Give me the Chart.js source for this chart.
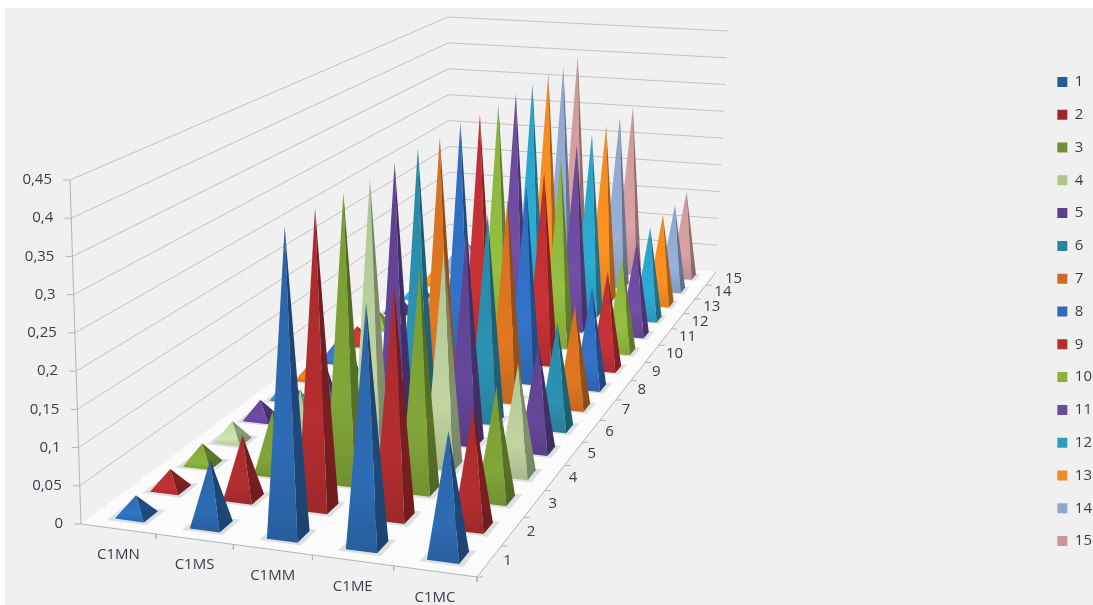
<!DOCTYPE html>
<html lang="en">
<head>
<meta charset="UTF-8">
<title>3D pyramid chart</title>
<script src="https://cdn.jsdelivr.net/npm/chart.js"></script>
<style>
  html, body { margin: 0; padding: 0; background: #fff; }
  #wrap { width: 1093px; height: 605px; overflow: hidden; }
</style>
</head>
<body>
<div id="wrap"><canvas id="chart" width="1093" height="605"></canvas></div>
<script>
const categories = ['C1MN', 'C1MS', 'C1MM', 'C1ME', 'C1MC'];
const seriesNames = ['1', '2', '3', '4', '5', '6', '7', '8', '9', '10', '11', '12', '13', '14', '15'];
const tickLabels = ['0', '0,05', '0,1', '0,15', '0,2', '0,25', '0,3', '0,35', '0,4', '0,45'];
const tickValues = [0, 0.05, 0.1, 0.15, 0.2, 0.25, 0.3, 0.35, 0.4, 0.45];

// one value per series
const c1mn = [0.026, 0.026, 0.028, 0.027, 0.027, 0.027, 0.028, 0.028, 0.028, 0.028, 0.028, 0.028, 0.028, 0.028, 0.028];
const c1ms = [0.084, 0.082, 0.083, 0.083, 0.083, 0.083, 0.083, 0.083, 0.083, 0.083, 0.083, 0.083, 0.083, 0.083, 0.083];
const c1mm = [0.393, 0.39, 0.385, 0.38, 0.38, 0.38, 0.376, 0.38, 0.376, 0.376, 0.378, 0.38, 0.385, 0.385, 0.394];
const c1me = [0.305, 0.3, 0.295, 0.292, 0.292, 0.292, 0.292, 0.292, 0.292, 0.295, 0.3, 0.3, 0.3, 0.3, 0.305];
const c1mc = [0.155, 0.152, 0.147, 0.147, 0.147, 0.147, 0.147, 0.147, 0.147, 0.147, 0.149, 0.152, 0.152, 0.15, 0.156];
const valuesByCategory = [c1mn, c1ms, c1mm, c1me, c1mc];

const seriesColors = ['#2b66ab', '#ab2b2e', '#7a9e35', '#b5c998', '#5f4391', '#2a8aa8', '#d5711f', '#2f6dbf', '#bf2f33', '#8db53c', '#6c4a9e', '#2aa3c8', '#f68b1f', '#8fa7cf', '#cf9a9c'];
const legendColors = ['#265c94', '#9a2a2a', '#6f8f32', '#b0c48c', '#58408a', '#2a84a0', '#d06a20', '#2e6ab8', '#b82c2c', '#8cb23c', '#6a4a9c', '#2aa0c4', '#f58a20', '#8fa5cc', '#cf9498'];

// view: floor corners and the full height of the value axis at each corner
const corners = { a: [81, 524], b: [477, 577], c: [716, 272], d: [450, 250] };
const heights = { a: [-11, -344], b: [2, -370], c: [12, -241], d: [-2, -233] };
const maxValue = 0.45;
const FONT = '15px "Open Sans", "Noto Sans", sans-serif';

function makeHomography() {
  const [x0, y0] = corners.a, [x1, y1] = corners.b, [x2, y2] = corners.c, [x3, y3] = corners.d;
  const dx1 = x1 - x2, dx2 = x3 - x2, sx = x0 - x1 + x2 - x3;
  const dy1 = y1 - y2, dy2 = y3 - y2, sy = y0 - y1 + y2 - y3;
  const den = dx1 * dy2 - dx2 * dy1;
  const g = (sx * dy2 - dx2 * sy) / den;
  const h = (dx1 * sy - sx * dy1) / den;
  return { a: x1 - x0 + g * x1, b: x3 - x0 + h * x3, c: x0, d: y1 - y0 + g * y1, e: y3 - y0 + h * y3, f: y0, g, h };
}
const H = makeHomography();

function project(u, v, value) {
  const w = H.g * u + H.h * v + 1;
  const fx = (H.a * u + H.b * v + H.c) / w;
  const fy = (H.d * u + H.e * v + H.f) / w;
  const k = value / maxValue;
  const mix = i => (1 - u) * (1 - v) * heights.a[i] + u * (1 - v) * heights.b[i] + u * v * heights.c[i] + (1 - u) * v * heights.d[i];
  return { x: fx + mix(0) * k, y: fy + mix(1) * k };
}

function shade(hex, f) {
  const n = parseInt(hex.slice(1), 16);
  const ch = s => Math.min(255, Math.round(((n >> s) & 255) * f));
  return `rgb(${ch(16)},${ch(8)},${ch(0)})`;
}

function polyline(points, color, width) {
  return { data: points, showLine: true, fill: false, borderColor: color, borderWidth: width, pointRadius: 0, tension: 0, clip: false };
}

function polygon(points, fillStyle) {
  return { data: [...points, points[0]], showLine: true, fill: 'shape', backgroundColor: fillStyle, borderWidth: 0, borderColor: 'transparent', pointRadius: 0, tension: 0, clip: false };
}

// the y scale runs in page pixels, so plot values can be used for the gradient ends
function faceGradient(top, mid, bottom, topY, bottomY) {
  return ctx => {
    const g = ctx.chart.ctx.createLinearGradient(0, topY, 0, bottomY);
    g.addColorStop(0, top);
    g.addColorStop(0.7, mid);
    g.addColorStop(1, bottom);
    return g;
  };
}

const nCat = categories.length, nSer = seriesNames.length;
const halfU = 0.195 / nCat, halfV = 0.2 / nSer;
const pyramids = [], shadows = [];

// front rows first: Chart.js paints the lowest dataset index last
for (let s = 0; s < nSer; s++) {
  for (let c = nCat - 1; c >= 0; c--) {
    const u = (c + 0.5) / nCat, v = (s + 0.5) / nSer;
    const value = valuesByCategory[c][s];
    const apex = project(u, v, value);
    const fl = project(u - halfU, v - halfV, 0), fr = project(u + halfU, v - halfV, 0);
    const br = project(u + halfU, v + halfV, 0);
    const col = seriesColors[s];
    // the flat pyramids catch more light on top
    const lift = value < 0.05 ? 1.08 : 1;
    pyramids.push(polygon([fr, br, apex], faceGradient(shade(col, 0.62 * lift), shade(col, 0.72 * lift), shade(col, 0.66 * lift), apex.y, br.y)));
    pyramids.push(polygon([fl, fr, apex], faceGradient(shade(col, 0.98 * lift), shade(col, 1.06 * lift), shade(col, 0.92 * lift), apex.y, fr.y)));
    const ex = 1.35;
    shadows.push(polygon([
      project(u - halfU * ex, v - halfV * ex, 0), project(u + halfU * ex, v - halfV * ex, 0),
      project(u + halfU * ex, v + halfV * ex, 0), project(u - halfU * ex, v + halfV * ex, 0)
    ], 'rgba(110,125,140,0.22)'));
  }
}

// walls, floor, axes
const guides = [];
const AXIS = '#b4b4b4', GRID = '#c3c3c3';
guides.push(polyline([project(0, 0, 0), project(1, 0, 0), project(1, 1, 0)], AXIS, 1));
guides.push(polyline([project(0, 0, 0), project(0, 0, maxValue)], AXIS, 1));
tickValues.forEach(t => {
  const p = project(0, 0, t);
  guides.push(polyline([{ x: p.x - 7, y: p.y }, p], AXIS, 1));
});
categories.forEach((_, i) => {
  const p = project((i + 1) / nCat, 0, 0);
  guides.push(polyline([p, { x: p.x, y: p.y + 5 }], AXIS, 1));
});
seriesNames.forEach((_, i) => {
  const p = project(1, i / nSer, 0);
  guides.push(polyline([p, { x: p.x + 6, y: p.y }], AXIS, 1));
});
const floor = polygon([project(0, 0, 0), project(1, 0, 0), project(1, 1, 0), project(0, 1, 0)], '#fbfbfb');
const grid = tickValues.slice(1).map(t => polyline([project(0, 0, t), project(0, 1, t), project(1, 1, t)], GRID, 1));

const textPlugin = {
  id: 'texts',
  beforeDraw(chart) {
    const { ctx, width, height } = chart;
    ctx.save();
    ctx.fillStyle = '#f0f0f0';
    ctx.fillRect(5, 8, width - 5, height - 8);
    ctx.restore();
  },
  afterDatasetsDraw(chart) {
    const { ctx, scales: { x, y } } = chart;
    ctx.save();
    ctx.font = FONT;
    ctx.fillStyle = '#3b3b4b';
    ctx.textBaseline = 'middle';
    ctx.textAlign = 'right';
    tickLabels.forEach((t, i) => {
      const p = project(0, 0, tickValues[i]);
      ctx.fillText(t, x.getPixelForValue(p.x) - 18, y.getPixelForValue(p.y));
    });
    ctx.textAlign = 'center';
    categories.forEach((t, i) => {
      const p = project((i + 0.5) / nCat, 0, 0);
      ctx.fillText(t, x.getPixelForValue(p.x), y.getPixelForValue(p.y) + 26);
    });
    ctx.textAlign = 'left';
    seriesNames.forEach((t, i) => {
      const p = project(1, (i + 0.5) / nSer, 0);
      ctx.fillText(t, x.getPixelForValue(p.x) + 14, y.getPixelForValue(p.y));
    });
    ctx.restore();
  }
};

new Chart(document.getElementById('chart'), {
  type: 'scatter',
  data: { datasets: [...guides, ...pyramids, ...shadows, floor, ...grid] },
  options: {
    responsive: false,
    animation: false,
    layout: { padding: { top: 18, right: -9 } },
    events: [],
    scales: {
      x: { display: false, bounds: 'data', afterDataLimits(s) { s.min = 0; s.max = s.width; } },
      y: { display: false, bounds: 'data', reverse: true, min: 18, max: 605 }
    },
    plugins: {
      tooltip: { enabled: false },
      legend: {
        position: 'right',
        labels: {
          color: '#3b3b4b',
          font: { size: 15, family: '"Open Sans", "Noto Sans", sans-serif' },
          boxWidth: 10,
          boxHeight: 10,
          padding: 17.8,
          generateLabels: () => seriesNames.map((name, i) => ({ text: name, fillStyle: legendColors[i], strokeStyle: legendColors[i], lineWidth: 0, fontColor: '#3b3b4b', datasetIndex: i }))
        }
      }
    }
  },
  plugins: [textPlugin]
});
</script>
</body>
</html>
